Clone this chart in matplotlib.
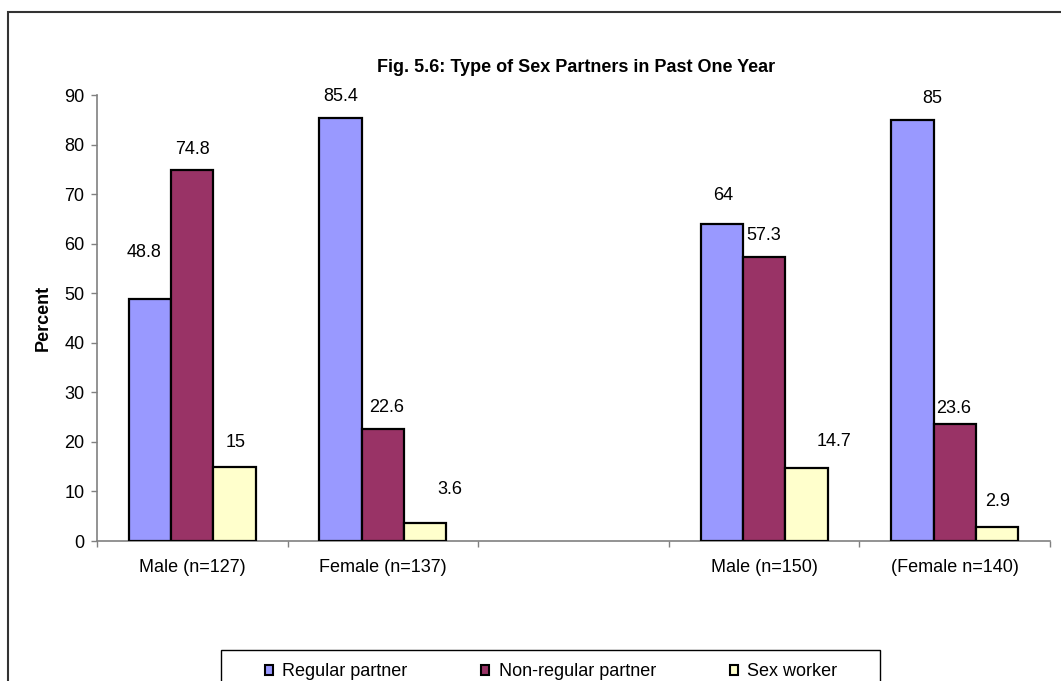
"""
Fig. 5.6 - Type of Sex Partners in Past One Year
Excel-style clustered bar chart
"""
import numpy as np
import matplotlib
matplotlib.use("Agg")
import matplotlib.pyplot as plt
from matplotlib.patches import Rectangle, Patch

plt.rcParams['font.family'] = ['Liberation Sans', 'DejaVu Sans']

# data
categories = ['Male (n=127)', 'Female (n=137)', '', 'Male (n=150)', '(Female n=140)']
regular = [48.8, 85.4, np.nan, 64, 85]
non_regular = [74.8, 22.6, np.nan, 57.3, 23.6]
sex_worker = [15, 3.6, np.nan, 14.7, 2.9]
series_names = ['Regular partner', 'Non-regular partner', 'Sex worker']
y_ticks = [0, 10, 20, 30, 40, 50, 60, 70, 80, 90]

colors = ['#9999FF', '#993366', '#FFFFCC']

# label nudges (pixels): dx, dy above the bar top, as dragged in the original
label_offsets = [
    [(-6, 47), (0, 21), None, (1, 28), (20, 21)],
    [(0, 21), (4, 22), None, (0, 22), (-1, 16)],
    [(1, 24), (25, 34), None, (28, 27), (1, 25)],
]

FS = 13
W, H = 1061, 681

fig = plt.figure(figsize=(W / 100, H / 100), dpi=100)

# outer chart frame (runs off the right / bottom edge)
fig.patches.append(Rectangle((8 / W, -0.1), 1.2, 1.1 - 12 / H,
                             transform=fig.transFigure, fill=False,
                             edgecolor='#333333', linewidth=1.5))

ax = fig.add_axes([97 / W, 1 - 541 / H, 953 / W, 446 / H])

x = np.arange(len(categories))
w = 1 / 4.5
data = [regular, non_regular, sex_worker]
for i, vals in enumerate(data):
    pos = x + (i - 1) * w
    ax.bar(pos, vals, width=w, color=colors[i], edgecolor='black',
           linewidth=1.6, label=series_names[i], zorder=3)
    for j, v in enumerate(vals):
        if np.isnan(v):
            continue
        dx, dy = label_offsets[i][j]
        ax.annotate(f"{v:g}", (pos[j], v), xytext=(dx, dy), textcoords='offset pixels',
                    ha='center', va='center', fontsize=FS)

ax.set_xlim(-0.5, len(categories) - 0.5)
ax.set_ylim(0, 90)
ax.set_yticks(y_ticks)
ax.tick_params(axis='y', labelsize=FS, length=4, width=1, color='#808080', pad=5)

ax.set_xticks(x)
ax.set_xticklabels(categories, fontsize=FS)
ax.tick_params(axis='x', which='major', length=0, pad=13)
ax.set_xticks(np.arange(len(categories) + 1) - 0.5, minor=True)
ax.tick_params(axis='x', which='minor', length=4, width=1, color='#808080')

for s in ['top', 'right']:
    ax.spines[s].set_visible(False)
for s in ['left', 'bottom']:
    ax.spines[s].set_color('#808080')
    ax.spines[s].set_linewidth(1.2)

ax.set_ylabel('Percent', fontsize=FS, fontweight='bold')
ax.yaxis.set_label_coords(-(97 - 52) / 953, 0.5)

fig.text(576 / W, 1 - 68 / H, 'Fig. 5.6: Type of Sex Partners in Past One Year',
         ha='center', va='center', fontsize=FS, fontweight='bold')

# legend box (Excel draws it wide, entries centred)
fig.patches.append(Rectangle((221 / W, -0.1), 659 / W, 0.1 + 1 - 650 / H,
                             transform=fig.transFigure, fill=False,
                             edgecolor='black', linewidth=1.0))
handles = [Patch(facecolor=c, edgecolor='black', linewidth=1.5) for c in colors]
fig.legend(handles, series_names, loc='center',
           bbox_to_anchor=(551 / W, 1 - 672 / H), ncol=3, fontsize=FS,
           frameon=False, handlelength=0.45, handleheight=0.45,
           handletextpad=0.5, columnspacing=4.1, borderpad=0, borderaxespad=0)

fig.savefig('out.png', dpi=100)
